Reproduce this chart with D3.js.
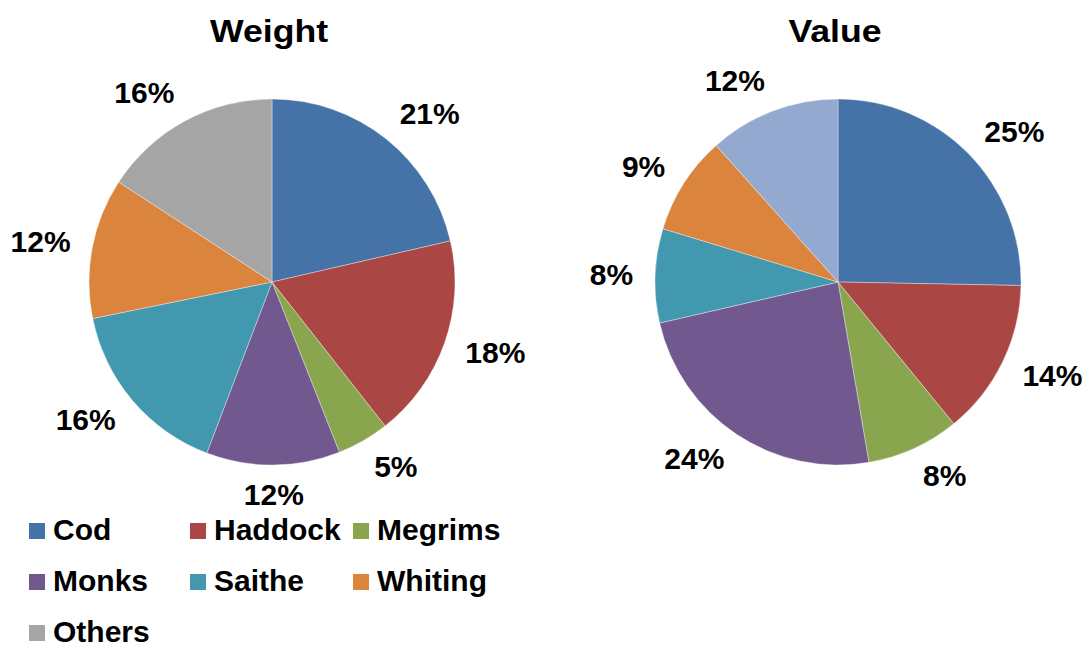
<!DOCTYPE html>
<html>
<head>
<meta charset="utf-8">
<script src="https://cdn.jsdelivr.net/npm/d3@7"></script>
<style>
  html, body { margin: 0; padding: 0; background: #fff; }
  svg { display: block; font-family: "Liberation Sans", Arial, sans-serif; }
</style>
</head>
<body>
<svg id="chart" width="1086" height="646"></svg>
<script>
// ---- data ----
const categories = ["Cod", "Haddock", "Megrims", "Monks", "Saithe", "Whiting", "Others"];
const weightValues = [21.4, 18.0, 4.6, 11.8, 16.0, 12.4, 15.8];
const weightLabels = ["21%", "18%", "5%", "12%", "16%", "12%", "16%"];
const valueValues = [25.3, 13.8, 8.2, 24.1, 8.3, 8.7, 11.6];
const valueLabels = ["25%", "14%", "8%", "24%", "8%", "9%", "12%"];
const chartTitles = ["Weight", "Value"];
const weightColors = ["#4572A7", "#AA4643", "#89A54E", "#71588F", "#4198AF", "#DB843D", "#A5A5A5"];
const valueColors = ["#4572A7", "#AA4643", "#89A54E", "#71588F", "#4198AF", "#DB843D", "#93A9CF"];

const svg = d3.select("#chart");
const radius = 183;
const anchorRadius = 205;
const labelH = 22;

const pies = [
  { title: chartTitles[0], values: weightValues, labels: weightLabels, colors: weightColors, cx: 272, cy: 282 },
  { title: chartTitles[1], values: valueValues, labels: valueLabels, colors: valueColors, cx: 838, cy: 282 }
];

const pieGen = d3.pie().sort(null).value(d => d);
const arcGen = d3.arc().innerRadius(0).outerRadius(radius);

pies.forEach(p => {
  const g = svg.append("g").attr("transform", `translate(${p.cx},${p.cy})`);
  const arcs = pieGen(p.values);
  g.selectAll("path")
    .data(arcs)
    .join("path")
    .attr("d", arcGen)
    .attr("fill", (d, i) => p.colors[i])
    .attr("stroke", "#ffffff")
    .attr("stroke-width", 0.5)
    .attr("stroke-opacity", 0.7);

  const labels = g.selectAll("text.lbl")
    .data(arcs)
    .join("text")
    .attr("class", "lbl")
    .attr("text-anchor", "middle")
    .attr("dy", "0.36em")
    .attr("font-size", 30)
    .attr("font-weight", "bold")
    .attr("fill", "#000")
    .text((d, i) => p.labels[i]);

  // outside-end placement: anchor on a ring, box pushed outward
  labels.each(function(d) {
    const a = (d.startAngle + d.endAngle) / 2;
    const sx = Math.sin(a), cy = -Math.cos(a);
    const w = this.getComputedTextLength();
    const ox = (w / 2) * Math.max(-1, Math.min(1, sx * 3));
    const oy = cy * (labelH / 2) * (cy > 0 ? 0.65 : 1.0);
    d3.select(this).attr("transform",
      `translate(${anchorRadius * sx + ox},${anchorRadius * cy + oy})`);
  });

  svg.append("g")
    .attr("transform", `translate(${p.cx - 3},42) scale(1.15,1)`)
    .append("text")
    .attr("x", 0)
    .attr("y", 0)
    .attr("text-anchor", "middle")
    .attr("font-size", 31)
    .attr("font-weight", "bold")
    .attr("fill", "#000")
    .text(p.title);
});

// ---- legend ----
const legend = svg.append("g");
const colX = [29, 190, 353];
const rowY = [523, 574, 625];
const items = legend.selectAll("g")
  .data(categories)
  .join("g")
  .attr("transform", (d, i) => `translate(${colX[i % 3]},${rowY[Math.floor(i / 3)]})`);
items.append("rect")
  .attr("width", 16)
  .attr("height", 16)
  .attr("fill", (d, i) => weightColors[i]);
items.append("text")
  .attr("x", 24)
  .attr("y", 16.5)
  .attr("font-size", 30)
  .attr("font-weight", "bold")
  .attr("fill", "#000")
  .text(d => d);
</script>
</body>
</html>
